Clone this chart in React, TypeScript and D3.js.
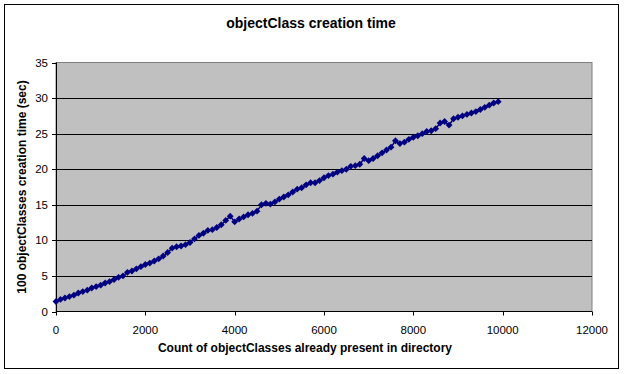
import * as d3 from 'd3';

// x: count of objectClasses already present (step of 100)
const counts = d3.range(0, 10000, 100);

// seconds to create 100 objectClasses
const seconds = [
  1.4, 1.7, 1.9, 2.1, 2.3, 2.6, 2.8, 3.0, 3.3, 3.5,
  3.7, 4.0, 4.2, 4.5, 4.8, 5.0, 5.5, 5.7, 6.0, 6.3,
  6.6, 6.8, 7.1, 7.4, 7.8, 8.3, 8.9, 9.1, 9.2, 9.4,
  9.7, 10.2, 10.7, 11.0, 11.4, 11.5, 11.8, 12.2, 12.8, 13.4,
  12.6, 13.0, 13.3, 13.6, 13.8, 14.1, 15.0, 15.2, 15.1, 15.4,
  15.8, 16.1, 16.4, 16.8, 17.2, 17.4, 17.8, 18.1, 18.1, 18.4,
  18.8, 19.1, 19.3, 19.6, 19.8, 20.0, 20.4, 20.5, 20.7, 21.5,
  21.2, 21.5, 21.9, 22.3, 22.7, 23.1, 24.0, 23.6, 23.8, 24.2,
  24.5, 24.7, 25.0, 25.3, 25.4, 25.7, 26.5, 26.7, 26.2, 27.1,
  27.3, 27.5, 27.7, 27.9, 28.1, 28.4, 28.7, 29.0, 29.3, 29.5,
];

const xTicks = [0, 2000, 4000, 6000, 8000, 10000, 12000];
const yTicks = [0, 5, 10, 15, 20, 25, 30, 35];

const title = 'objectClass creation time';
const xTitle = 'Count of objectClasses already present in directory';
const yTitle = '100 objectClasses creation time (sec)';

const W = 624;
const H = 374;
const plot = { left: 56, right: 592, top: 62.5, bottom: 311.5 };
const font = '"Liberation Sans", Arial, sans-serif';

export default function App() {
  const x = d3.scaleLinear().domain([0, 12000]).range([plot.left, plot.right]);
  const y = d3.scaleLinear().domain([0, 35]).range([plot.bottom, plot.top]);

  const data = counts.map((c, i) => ({ c, s: seconds[i] }));
  const line = d3.line<{ c: number; s: number }>()
    .x(d => x(d.c))
    .y(d => y(d.s));
  const diamond = d3.symbol().type(d3.symbolDiamond2).size(30)();

  return (
    <svg
      width={W}
      height={H}
      style={{ position: 'absolute', left: 0, top: 0, background: '#fff' }}
      fontFamily={font}
    >
      <rect x={4.5} y={4.5} width={614} height={364} fill="#fff" stroke="#000" />

      <text x={311} y={28} textAnchor="middle" fontSize={14} fontWeight="bold">
        {title}
      </text>

      <rect
        x={plot.left}
        y={plot.top}
        width={plot.right - plot.left}
        height={plot.bottom - plot.top}
        fill="#C0C0C0"
        stroke="#808080"
      />

      {yTicks.slice(1, -1).map(t => (
        <line key={t} x1={plot.left} x2={plot.right} y1={Math.round(y(t)) + 0.5} y2={Math.round(y(t)) + 0.5} stroke="#000" />
      ))}

      {/* y axis */}
      <line x1={plot.left + 0.5} x2={plot.left + 0.5} y1={plot.top} y2={plot.bottom} stroke="#000" />
      {yTicks.map(t => (
        <g key={t}>
          <line x1={plot.left - 4} x2={plot.left} y1={Math.round(y(t)) + 0.5} y2={Math.round(y(t)) + 0.5} stroke="#000" />
          <text x={plot.left - 8} y={y(t) + 4} textAnchor="end" fontSize={11.5}>{t}</text>
        </g>
      ))}

      {/* x axis */}
      <line x1={plot.left} x2={plot.right} y1={plot.bottom} y2={plot.bottom} stroke="#000" />
      {xTicks.map(t => (
        <g key={t}>
          <line x1={Math.round(x(t)) + 0.5} x2={Math.round(x(t)) + 0.5} y1={plot.bottom} y2={plot.bottom + 4} stroke="#000" />
          <text x={x(t)} y={334} textAnchor="middle" fontSize={11.5}>{t}</text>
        </g>
      ))}

      <path d={line(data) ?? ''} fill="none" stroke="#000080" strokeWidth={1.5} />
      {data.map(d => (
        <path key={d.c} d={diamond ?? ''} transform={`translate(${x(d.c)},${y(d.s)})`} fill="#000080" />
      ))}

      <text x={305} y={352} textAnchor="middle" fontSize={12} fontWeight="bold">
        {xTitle}
      </text>
      <text
        transform={`translate(26,${(plot.top + plot.bottom) / 2}) rotate(-90)`}
        textAnchor="middle"
        fontSize={12}
        fontWeight="bold"
      >
        {yTitle}
      </text>
    </svg>
  );
}
